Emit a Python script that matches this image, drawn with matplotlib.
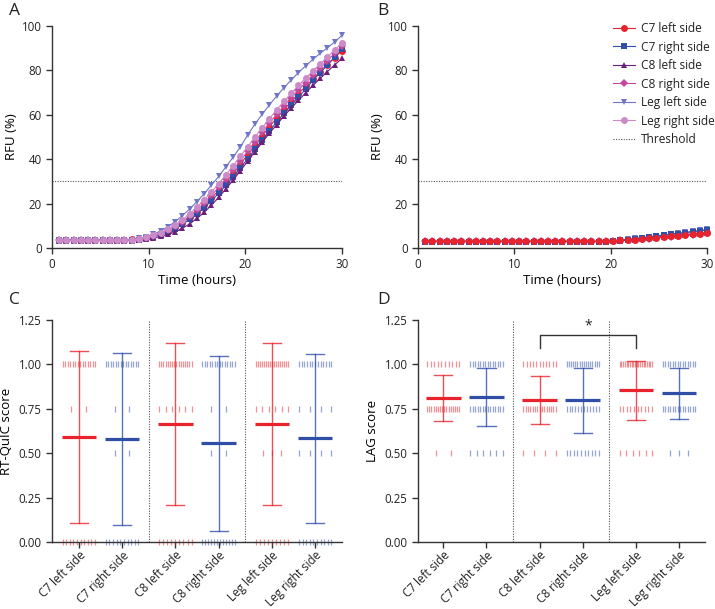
import numpy as np
import matplotlib
matplotlib.use("Agg")
import matplotlib.pyplot as plt
from matplotlib.lines import Line2D

plt.rcParams['font.family'] = ['Open Sans', 'DejaVu Sans']

# ---------------- data ----------------
series_names = ["C7 left side", "C7 right side", "C8 left side",
                "C8 right side", "Leg left side", "Leg right side"]

time_h = [0.75, 1.5, 2.25, 3.0, 3.75, 4.5, 5.25, 6.0, 6.75, 7.5,
          8.25, 9.0, 9.75, 10.5, 11.25, 12.0, 12.75, 13.5, 14.25, 15.0,
          15.75, 16.5, 17.25, 18.0, 18.75, 19.5, 20.25, 21.0, 21.75, 22.5,
          23.25, 24.0, 24.75, 25.5, 26.25, 27.0, 27.75, 28.5, 29.25, 30.0]

# Panel A (RFU %)
a_c7_left = [3.8, 3.8, 3.8, 3.8, 3.8, 3.8, 3.8, 3.8, 3.8, 3.8,
             3.9, 4.2, 4.7, 5.4, 6.4, 7.7, 9.4, 11.4, 13.8, 16.4,
             19.3, 22.5, 26.0, 29.7, 33.6, 37.8, 42.1, 46.4, 50.6, 54.7,
             58.6, 62.4, 66.0, 69.5, 72.9, 76.2, 79.4, 82.6, 85.8, 88.9]
a_c7_right = [3.4, 3.4, 3.4, 3.4, 3.4, 3.4, 3.4, 3.4, 3.4, 3.4,
              3.5, 3.8, 4.3, 5.0, 5.9, 7.1, 8.7, 10.7, 12.9, 15.4,
              18.2, 21.3, 24.7, 28.3, 32.1, 36.1, 40.3, 44.5, 48.7, 52.8,
              56.8, 60.6, 64.3, 67.9, 71.6, 75.5, 79.0, 82.5, 86.0, 89.6]
a_c8_left = [3.3, 3.3, 3.3, 3.3, 3.3, 3.3, 3.3, 3.3, 3.3, 3.3,
             3.3, 3.6, 4.0, 4.5, 5.2, 6.1, 7.3, 8.9, 10.9, 13.3,
             16.1, 19.3, 22.8, 26.6, 30.6, 34.8, 39.1, 43.4, 47.6, 51.7,
             55.6, 59.4, 63.0, 66.5, 69.9, 73.2, 76.4, 79.5, 82.5, 85.4]
a_c8_right = [3.6, 3.6, 3.6, 3.6, 3.6, 3.6, 3.6, 3.6, 3.6, 3.6,
              3.8, 4.1, 4.7, 5.5, 6.6, 8.0, 9.8, 11.9, 14.4, 17.2,
              20.3, 23.7, 27.3, 31.1, 35.1, 39.3, 43.6, 47.9, 52.1, 56.2,
              60.2, 64.0, 67.6, 71.1, 74.5, 77.8, 81.1, 84.4, 87.7, 91.0]
a_leg_left = [3.6, 3.6, 3.6, 3.6, 3.6, 3.6, 3.6, 3.6, 3.6, 3.6,
              3.8, 4.3, 5.1, 6.2, 7.7, 9.6, 11.9, 14.6, 17.6, 20.9,
              24.5, 28.3, 32.3, 36.6, 41.0, 45.6, 51.0, 55.8, 60.3, 64.5,
              68.5, 72.2, 75.7, 79.0, 82.1, 85.0, 87.7, 90.2, 92.8, 95.8]
a_leg_right = [3.5, 3.5, 3.5, 3.5, 3.5, 3.5, 3.5, 3.5, 3.5, 3.5,
               3.7, 4.1, 4.8, 5.7, 6.9, 8.5, 10.4, 12.7, 15.4, 18.4,
               21.7, 25.2, 29.0, 33.0, 37.1, 41.4, 45.7, 50.0, 54.2, 58.3,
               62.3, 66.1, 69.7, 73.2, 76.6, 79.8, 83.0, 86.1, 89.2, 92.3]

# Panel B (RFU %)
b_c7_left = [3.0, 3.0, 3.0, 3.0, 3.0, 3.0, 3.0, 3.0, 3.0, 3.0,
             3.0, 3.0, 3.0, 3.0, 3.0, 3.0, 3.0, 3.0, 3.0, 3.0,
             3.0, 3.0, 3.0, 3.0, 3.0, 3.0, 3.2, 3.4, 3.6, 3.8,
             4.0, 4.3, 4.6, 4.9, 5.2, 5.5, 5.8, 6.1, 6.4, 6.7]
b_c7_right = [2.9, 2.9, 2.9, 2.9, 2.9, 2.9, 2.9, 2.9, 2.9, 2.9,
              2.9, 2.9, 2.9, 2.9, 2.9, 2.9, 2.9, 2.9, 2.9, 2.9,
              2.9, 2.9, 2.9, 2.9, 2.9, 2.9, 3.2, 3.5, 3.8, 4.1,
              4.5, 4.9, 5.3, 5.7, 6.1, 6.5, 6.9, 7.3, 7.7, 8.1]
b_c8_left = [2.9, 2.9, 2.9, 2.9, 2.9, 2.9, 2.9, 2.9, 2.9, 2.9,
             2.9, 2.9, 2.9, 2.9, 2.9, 2.9, 2.9, 2.9, 2.9, 2.9,
             2.9, 2.9, 2.9, 2.9, 2.9, 2.9, 3.1, 3.3, 3.5, 3.8,
             4.1, 4.4, 4.7, 5.0, 5.3, 5.6, 5.9, 6.2, 6.5, 6.8]
b_c8_right = [3.0, 3.0, 3.0, 3.0, 3.0, 3.0, 3.0, 3.0, 3.0, 3.0,
              3.0, 3.0, 3.0, 3.0, 3.0, 3.0, 3.0, 3.0, 3.0, 3.0,
              3.0, 3.0, 3.0, 3.0, 3.0, 3.0, 3.2, 3.4, 3.6, 3.8,
              4.0, 4.2, 4.5, 4.8, 5.1, 5.4, 5.7, 6.0, 6.3, 6.6]
b_leg_left = [2.9, 2.9, 2.9, 2.9, 2.9, 2.9, 2.9, 2.9, 2.9, 2.9,
              2.9, 2.9, 2.9, 2.9, 2.9, 2.9, 2.9, 2.9, 2.9, 2.9,
              2.9, 2.9, 2.9, 2.9, 2.9, 2.9, 3.2, 3.5, 3.9, 4.3,
              4.7, 5.1, 5.5, 5.9, 6.3, 6.7, 7.1, 7.5, 7.9, 8.4]
b_leg_right = [3.0, 3.0, 3.0, 3.0, 3.0, 3.0, 3.0, 3.0, 3.0, 3.0,
               3.0, 3.0, 3.0, 3.0, 3.0, 3.0, 3.0, 3.0, 3.0, 3.0,
               3.0, 3.0, 3.0, 3.0, 3.0, 3.0, 3.2, 3.5, 3.8, 4.1,
               4.4, 4.7, 5.0, 5.3, 5.6, 5.9, 6.2, 6.5, 6.8, 7.2]

threshold = 30

# Panel C (RT-QuIC score): counts of samples at each score level
c_levels = [0.0, 0.5, 0.75, 1.0]
c_counts = [[10, 0, 2, 14],
            [10, 2, 2, 14],
            [9, 0, 6, 16],
            [12, 2, 2, 14],
            [9, 3, 6, 17],
            [10, 4, 4, 13]]
c_mean = [0.592, 0.580, 0.664, 0.555, 0.664, 0.583]
c_sd = [0.486, 0.482, 0.458, 0.495, 0.456, 0.476]

# Panel D (LAG score)
d_levels = [0.5, 0.75, 1.0]
d_counts = [[2, 16, 10],
            [6, 14, 14],
            [4, 15, 11],
            [10, 12, 16],
            [6, 10, 20],
            [3, 14, 14]]
d_mean = [0.809, 0.815, 0.798, 0.798, 0.854, 0.837]
d_sd = [0.129, 0.163, 0.136, 0.184, 0.166, 0.144]

# ---------------- styles ----------------
line_colors = ["#e8232c", "#2f4fa8", "#6b1f7c", "#c2489f", "#7175c9", "#cc8bc8"]
line_markers = ["o", "s", "^", "D", "v", "o"]
marker_sizes = [5.0, 4.6, 5.0, 3.8, 5.0, 5.0]
side_colors = ["#e8232c", "#2f4ea6"]
spine_col = "#333333"
TICK_FS = 8.3
LAB_FS = 9.5
CAT_FS = 8.4

fig = plt.figure(figsize=(7.15, 6.09), dpi=100)
axA = fig.add_axes([0.0727, 0.5928, 0.4056, 0.3645])
axB = fig.add_axes([0.5846, 0.5928, 0.4042, 0.3645])
axC = fig.add_axes([0.0727, 0.1100, 0.4056, 0.3645])
axD = fig.add_axes([0.5846, 0.1100, 0.4014, 0.3645])


def style_axes(ax):
    for s in ["top", "right"]:
        ax.spines[s].set_visible(False)
    for s in ["left", "bottom"]:
        ax.spines[s].set_color(spine_col)
        ax.spines[s].set_linewidth(1.0)
    ax.tick_params(axis="both", colors=spine_col, labelcolor="#222222",
                   labelsize=TICK_FS, length=4, width=1.0, direction="out")


def kinetic(ax, data, order):
    for rank, i in enumerate(order):
        ax.plot(time_h, data[i], color=line_colors[i], marker=line_markers[i],
                markersize=marker_sizes[i], markeredgewidth=0, lw=0.8,
                clip_on=False, zorder=3 + rank * 0.01, label=series_names[i])
    ax.axhline(threshold, color="#555555", lw=0.8, ls=(0, (1.0, 1.3)), zorder=2)
    ax.set_xlim(0, 30)
    ax.set_ylim(0, 100)
    ax.set_xticks([0, 10, 20, 30])
    ax.set_yticks([0, 20, 40, 60, 80, 100])
    ax.set_xlabel("Time (hours)", fontsize=LAB_FS, labelpad=2)
    ax.set_ylabel("RFU (%)", fontsize=LAB_FS, labelpad=3)
    style_axes(ax)


dataA = [a_c7_left, a_c7_right, a_c8_left, a_c8_right, a_leg_left, a_leg_right]
dataB = [b_c7_left, b_c7_right, b_c8_left, b_c8_right, b_leg_left, b_leg_right]
kinetic(axA, dataA, [0, 1, 2, 3, 4, 5])
kinetic(axB, dataB, [5, 4, 3, 2, 1, 0])

handles = [Line2D([], [], color=line_colors[i], marker=line_markers[i],
                  markersize=marker_sizes[i], markeredgewidth=0, lw=0.8)
           for i in range(6)]
handles.append(Line2D([], [], color="#555555", lw=0.8, ls=(0, (1.0, 1.3))))
labels = series_names + ["Threshold"]
leg = axB.legend(handles, labels, loc="upper right", bbox_to_anchor=(1.05, 1.05),
                 frameon=False, fontsize=8.6, handlelength=1.85, handletextpad=0.45,
                 labelspacing=0.46, borderaxespad=0.2)
for t in leg.get_texts():
    t.set_color("#222222")

# ---------------- scatter panels ----------------
GAP = 0.23
positions = [i + GAP * (i // 2) for i in range(6)]


def row_offsets(n):
    if n <= 0:
        return []
    if n == 1:
        return [0.0]
    if n == 2:
        w = 0.34
    elif n == 3:
        w = 0.42
    else:
        w = 0.75
    return list(np.linspace(-w / 2, w / 2, n))


def score_panel(ax, levels, counts, means, sds, ylabel):
    for g in range(6):
        col = side_colors[g % 2]
        x0 = positions[g]
        for lev, n in zip(levels, counts[g]):
            offs = row_offsets(n)
            if offs:
                ax.plot([x0 + o for o in offs], [lev] * len(offs), ls="none",
                        marker="|", markersize=4.6, markeredgewidth=0.9,
                        color=col, alpha=0.5, clip_on=False, zorder=2)
        m, s = means[g], sds[g]
        ax.plot([x0, x0], [m - s, m + s], color=col, lw=1.0, alpha=0.8, zorder=3,
                clip_on=False)
        for yy in (m - s, m + s):
            ax.plot([x0 - 0.21, x0 + 0.21], [yy, yy], color=col, lw=1.0,
                    alpha=0.8, zorder=3, clip_on=False)
        ax.plot([x0 - 0.4, x0 + 0.4], [m, m], color=col, lw=2.3, zorder=4,
                solid_capstyle="butt")
    for k in (1, 3):
        xs = (positions[k] + positions[k + 1]) / 2
        ax.axvline(xs, color="#555555", lw=0.8, ls=(0, (1.0, 1.3)), zorder=1)
    ax.set_ylim(0, 1.25)
    ax.set_yticks([0, 0.25, 0.5, 0.75, 1.0, 1.25])
    ax.set_yticklabels(["0.00", "0.25", "0.50", "0.75", "1.00", "1.25"])
    ax.set_xticks(positions)
    ax.set_xticklabels(series_names, rotation=45, ha="right",
                       rotation_mode="anchor", fontsize=CAT_FS)
    ax.set_ylabel(ylabel, fontsize=LAB_FS, labelpad=4)
    style_axes(ax)
    ax.tick_params(axis="x", labelsize=CAT_FS, pad=1.0)


score_panel(axC, c_levels, c_counts, c_mean, c_sd, "RT-QuIC score")
axC.set_xlim(-0.62, 6.08)
score_panel(axD, d_levels, d_counts, d_mean, d_sd, "LAG score")
axD.set_xlim(-0.585, 6.06)

# significance bracket (C8 left vs Leg left)
xa, xb = positions[2], positions[4]
axD.plot([xa, xa, xb, xb], [1.09, 1.165, 1.165, 1.09], color="#333333", lw=1.0, zorder=5)
axD.text((xa + xb) / 2, 1.172, "*", ha="center", va="bottom", fontsize=10, color="#222222")

# panel letters
for lab, (x, y) in {"A": (0.012, 0.995), "B": (0.527, 0.995),
                    "C": (0.012, 0.52), "D": (0.527, 0.52)}.items():
    fig.text(x, y, lab, fontsize=12.5, ha="left", va="top", color="#222222")

fig.savefig("out.png", dpi=100)
